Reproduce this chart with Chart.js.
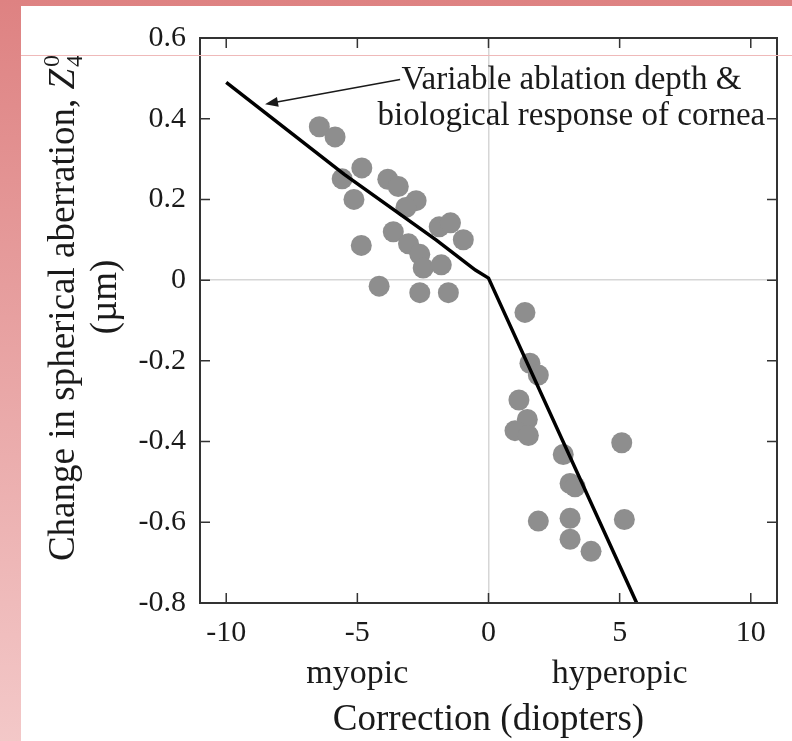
<!DOCTYPE html>
<html>
<head>
<meta charset="utf-8">
<script src="https://cdn.jsdelivr.net/npm/chart.js@4"></script>
<style>
  html, body { margin: 0; padding: 0; }
  body {
    width: 792px; height: 741px; overflow: hidden; position: relative;
    background: linear-gradient(to bottom, #de8282, #f3c8c8);
  }
  #panel { position: absolute; left: 21px; top: 6px; width: 771px; height: 735px; background: #fff; }
  #rule { position: absolute; left: 21px; top: 55px; width: 771px; height: 1px; background: #efb9b9; }
</style>
</head>
<body>
<div id="panel"><canvas id="za" width="771" height="735"></canvas></div>
<div id="rule"></div>
<script>
// tick values
const xTicks = [-10, -5, 0, 5, 10]
const yTicks = [-0.8, -0.6, -0.4, -0.2, 0, 0.2, 0.4, 0.6]

// measured eyes (correction in diopters, change in Z40 in um)
const myopicX = [-6.45, -5.85, -4.83, -5.58, -5.13, -4.85, -4.17, -3.84, -3.44, -2.76, -3.15, -3.63, -3.05, -2.62, -2.49, -1.80, -1.88, -1.45, -0.96, -2.62, -1.53]
const myopicY = [0.38, 0.355, 0.278, 0.251, 0.20, 0.086, -0.015, 0.25, 0.232, 0.197, 0.18, 0.12, 0.09, 0.064, 0.03, 0.038, 0.132, 0.142, 0.10, -0.031, -0.031]
const hyperopicX = [1.39, 1.58, 1.90, 1.16, 1.48, 1.01, 1.52, 5.08, 2.85, 3.11, 3.30, 1.90, 3.11, 5.18, 3.11, 3.91]
const hyperopicY = [-0.08, -0.206, -0.235, -0.297, -0.345, -0.373, -0.385, -0.403, -0.432, -0.504, -0.512, -0.597, -0.59, -0.593, -0.642, -0.672]

// model curve
const fitX = [-10, -5.5, -2, -0.5, 0, 5.65]
const fitY = [0.49, 0.262, 0.1, 0.025, 0.005, -0.8]

const serif = '"Liberation Serif", "Times New Roman", serif'
const ink = '#1a1a1a'

const eyes = myopicX.map((x, i) => ({ x: x, y: myopicY[i] }))
  .concat(hyperopicX.map((x, i) => ({ x: x, y: hyperopicY[i] })))
const fit = fitX.map((x, i) => ({ x: x, y: fitY[i] }))

const frame = {
  id: 'frame',
  afterDraw(chart) {
    const ctx = chart.ctx
    const a = chart.chartArea
    const xs = chart.scales.x
    const ys = chart.scales.y

    // box + inward ticks
    ctx.save()
    ctx.strokeStyle = '#333'
    ctx.lineWidth = 2
    ctx.strokeRect(a.left, a.top, a.right - a.left, a.bottom - a.top)
    ctx.lineWidth = 1.5
    ctx.beginPath()
    xTicks.forEach(v => {
      const px = xs.getPixelForValue(v)
      ctx.moveTo(px, a.bottom); ctx.lineTo(px, a.bottom - 10)
      ctx.moveTo(px, a.top); ctx.lineTo(px, a.top + 10)
    })
    yTicks.forEach(v => {
      const py = ys.getPixelForValue(v)
      ctx.moveTo(a.left, py); ctx.lineTo(a.left + 10, py)
      ctx.moveTo(a.right, py); ctx.lineTo(a.right - 10, py)
    })
    ctx.stroke()

    // annotation
    ctx.fillStyle = ink
    ctx.font = '33px ' + serif
    ctx.textAlign = 'center'
    ctx.textBaseline = 'alphabetic'
    const cx = xs.getPixelForValue(3.16)
    ctx.fillText('Variable ablation depth &', cx, ys.getPixelForValue(0.473))
    ctx.fillText('biological response of cornea', cx, ys.getPixelForValue(0.385))

    const tx = xs.getPixelForValue(-3.37), ty = ys.getPixelForValue(0.497)
    const hx = xs.getPixelForValue(-8.52), hy = ys.getPixelForValue(0.436)
    const ang = Math.atan2(hy - ty, hx - tx)
    ctx.strokeStyle = ink
    ctx.lineWidth = 1.5
    ctx.beginPath()
    ctx.moveTo(tx, ty)
    ctx.lineTo(hx - 8 * Math.cos(ang), hy - 8 * Math.sin(ang))
    ctx.stroke()
    ctx.beginPath()
    ctx.moveTo(hx, hy)
    ctx.lineTo(hx - 13 * Math.cos(ang) + 5 * Math.sin(ang), hy - 13 * Math.sin(ang) - 5 * Math.cos(ang))
    ctx.lineTo(hx - 13 * Math.cos(ang) - 5 * Math.sin(ang), hy - 13 * Math.sin(ang) + 5 * Math.cos(ang))
    ctx.closePath()
    ctx.fill()

    // x axis texts
    ctx.font = '34px ' + serif
    ctx.fillText('myopic', xs.getPixelForValue(-5), 677)
    ctx.fillText('hyperopic', xs.getPixelForValue(5), 677)
    ctx.font = '37px ' + serif
    ctx.fillText('Correction (diopters)', xs.getPixelForValue(0), 724)

    // y axis title, rotated
    ctx.save()
    ctx.translate(53, 302)
    ctx.rotate(-Math.PI / 2)
    ctx.textAlign = 'left'
    const main = 'Change in spherical aberration, '
    ctx.font = '37px ' + serif
    const w1 = ctx.measureText(main).width
    ctx.font = 'italic 37px ' + serif
    const w2 = ctx.measureText('Z').width
    ctx.font = '24px ' + serif
    const w3 = ctx.measureText('0').width
    const s = -(w1 + w2 + w3 + 2) / 2
    ctx.font = '37px ' + serif
    ctx.fillText(main, s, 0)
    ctx.font = 'italic 37px ' + serif
    ctx.fillText('Z', s + w1, 0)
    ctx.font = '24px ' + serif
    ctx.fillText('0', s + w1 + w2 + 2, -15)
    ctx.fillText('4', s + w1 + w2 + 2, 8)
    ctx.restore()

    ctx.save()
    ctx.translate(95, 291)
    ctx.rotate(-Math.PI / 2)
    ctx.font = '37px ' + serif
    ctx.textAlign = 'center'
    ctx.fillText('(\u00b5m)', 0, 0)
    ctx.restore()

    ctx.restore()
  }
}

const zeroLine = c => (c.tick && c.tick.value === 0) ? '#d6d6d6' : 'rgba(0,0,0,0)'

new Chart(document.getElementById('za').getContext('2d'), {
  type: 'scatter',
  data: {
    datasets: [
      {
        type: 'line',
        label: 'Model',
        data: fit,
        borderColor: '#000',
        borderWidth: 3.5,
        pointRadius: 0,
        fill: false,
        tension: 0,
        order: 0
      },
      {
        label: 'Eyes',
        data: eyes,
        backgroundColor: '#8e8e8e',
        borderWidth: 0,
        pointRadius: 10.5,
        pointHoverRadius: 10.5,
        order: 1
      }
    ]
  },
  options: {
    responsive: false,
    devicePixelRatio: 1,
    animation: false,
    events: [],
    layout: { padding: { top: 24, right: 15, left: 0, bottom: 0 } },
    plugins: { legend: { display: false }, tooltip: { enabled: false } },
    scales: {
      x: {
        type: 'linear',
        min: -11,
        max: 11,
        afterBuildTicks: s => { s.ticks = xTicks.map(v => ({ value: v })) },
        afterFit: s => { s.height = 138 },
        grid: { color: zeroLine, lineWidth: 1.5, drawTicks: false },
        border: { display: false },
        ticks: {
          padding: 12,
          color: ink,
          font: { family: serif, size: 30 },
          callback: v => String(v)
        }
      },
      y: {
        type: 'linear',
        min: -0.8,
        max: 0.6,
        afterBuildTicks: s => { s.ticks = yTicks.map(v => ({ value: v })) },
        afterFit: s => { s.width = 179 },
        grid: { color: zeroLine, lineWidth: 1.5, drawTicks: false },
        border: { display: false },
        ticks: {
          padding: 14,
          color: ink,
          font: { family: serif, size: 30 },
          callback: v => v === 0 ? '0' : v.toFixed(1)
        }
      }
    }
  },
  plugins: [frame]
})
</script>
</body>
</html>
